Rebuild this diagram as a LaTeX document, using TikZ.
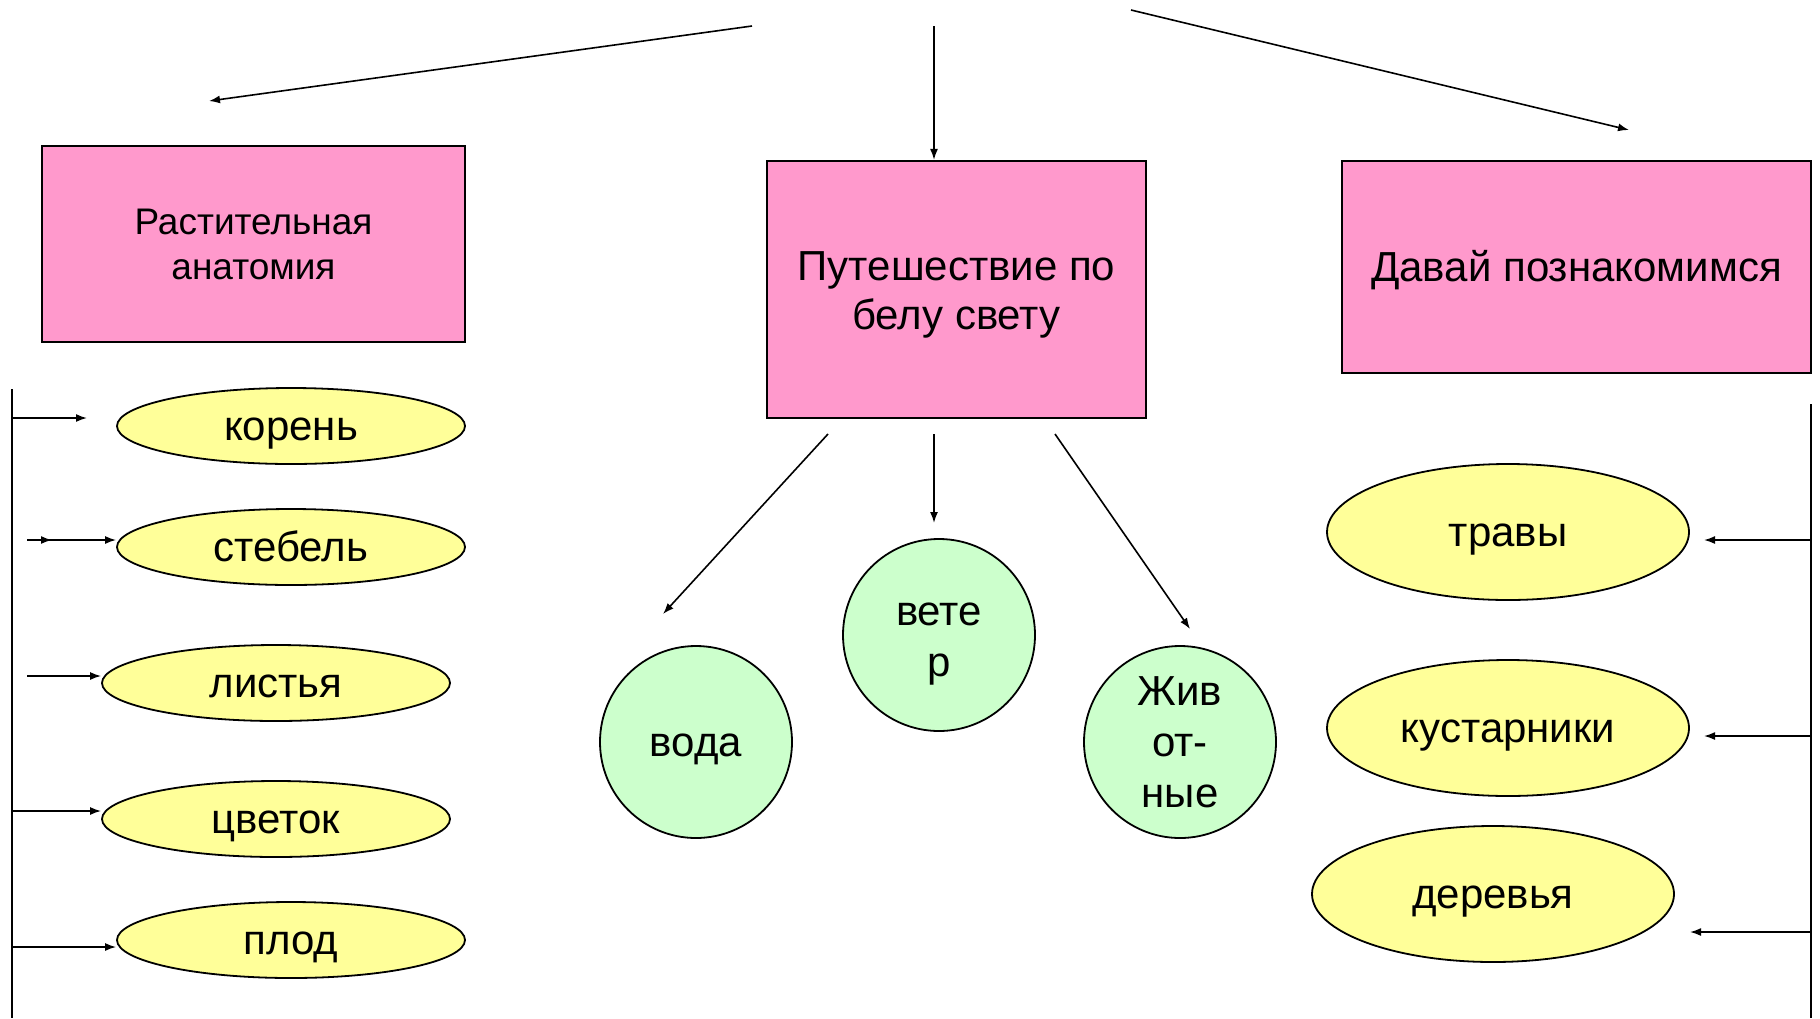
\documentclass[tikz,border=0pt]{standalone}
\usepackage{xcolor}
\usepackage{fontspec}
\setmainfont{Liberation Sans}
\usepackage{tikz}
\usetikzlibrary{shapes, positioning, arrows.meta}

\definecolor{boxpink}{HTML}{FF99CC}
\definecolor{partyellow}{HTML}{FFFF99}
\definecolor{worldgreen}{HTML}{CCFFCC}

\tikzset{
	topic/.style={rectangle, draw, line width=2.2pt, fill=boxpink, align=center, inner sep=0pt, font=\fontsize{42}{49}\selectfont},
	oneline/.style={text height=38pt, text depth=8.5pt},
	part/.style={ellipse, draw, line width=1.8pt, fill=partyellow, minimum width=348pt, minimum height=76pt, inner sep=0pt, oneline, font=\fontsize{42}{49}\selectfont},
	kind/.style={ellipse, draw, line width=1.8pt, fill=partyellow, minimum width=362pt, minimum height=136pt, inner sep=0pt, oneline, font=\fontsize{42}{49}\selectfont},
	world/.style={circle, draw, line width=1.8pt, fill=worldgreen, minimum size=192pt, inner sep=0pt, align=center, font=\fontsize{42}{51}\selectfont},
	conn/.style={-{Latex[length=11pt, width=8pt]}, line width=1.6pt},
	side/.style={line width=2.2pt}
}

\begin{document}
\begin{tikzpicture}[x=1pt, y=-1pt]
			\useasboundingbox (0,0) rectangle (1820,1018);

			% Nodes
			\node (plants) [topic, minimum width=423pt, minimum height=196pt, font=\fontsize{37}{45}\selectfont] at (253.5,244) {Растительная\\анатомия};
			\node (travel) [topic, minimum width=379pt, minimum height=257pt] at (956.5,289.5) {\rule{0pt}{40pt}Путешествие по\\белу свету};
			\node (meet) [topic, oneline, minimum width=469pt, minimum height=212pt] at (1576.5,267) {Давай познакомимся};

			\node (root) [part] at (291,426) {корень};
			\node (stem) [part] at (291,547) {стебель};
			\node (leaves) [part] at (276,683) {листья};
			\node (flower) [part] at (276,819) {цветок};
			\node (fruit) [part] at (291,940) {плод};

			\node (water) [world, oneline] at (696,742) {вода};
			\node (wind) [world] at (939,635) {\rule{0pt}{40pt}вете\\р};
			\node (animals) [world] at (1180,742) {Жив\\от-\\ные};

			\node (grass) [kind] at (1508,532) {травы};
			\node (shrubs) [kind] at (1508,728) {кустарники};
			\node (trees) [kind] at (1493,894) {деревья};

			% Free ends
			\coordinate (topL) at (752,26);
			\coordinate (topLend) at (209,101);
			\coordinate (topC) at (934,26);
			\coordinate (topR) at (1131,10);
			\coordinate (topRend) at (1629,130);

			\coordinate (downL) at (828,434);
			\coordinate (downLend) at (663,614);
			\coordinate (downC) at (934,434);
			\coordinate (downCend) at (934,523);
			\coordinate (downR) at (1055,434);
			\coordinate (downRend) at (1190,629);

			\coordinate (leftTop) at (12,389);
			\coordinate (leftBot) at (12,1018);
			\coordinate (rootA) at (12,418);
			\coordinate (rootB) at (87,418);
			\coordinate (stemA) at (27,540);
			\coordinate (stemB) at (52,540);
			\coordinate (leavesA) at (27,676);
			\coordinate (flowerA) at (12,811);
			\coordinate (fruitA) at (12,947);

			\coordinate (rightTop) at (1811,404);
			\coordinate (rightBot) at (1811,1018);
			\coordinate (grassA) at (1811,540);
			\coordinate (grassB) at (1704,540);
			\coordinate (shrubsA) at (1811,736);
			\coordinate (shrubsB) at (1704,736);
			\coordinate (treesA) at (1811,932);
			\coordinate (treesB) at (1690,932);

			% Edges
			\draw [conn] (topL) -- (topLend);
			\draw [conn] (topC) -- (topC |- travel.north);
			\draw [conn] (topR) -- (topRend);

			\draw [conn] (downL) -- (downLend);
			\draw [conn] (downC) -- (downCend);
			\draw [conn] (downR) -- (downRend);

			\draw [side] (leftTop) -- (leftBot);
			\draw [conn] (rootA) -- (rootB);
			\draw [conn] (stemA) -- (stemB);
			\draw [conn] (stemA) -- (stemA -| stem.west);
			\draw [conn] (leavesA) -- (leavesA -| leaves.west);
			\draw [conn] (flowerA) -- (flowerA -| flower.west);
			\draw [conn] (fruitA) -- (fruitA -| fruit.west);

			\draw [side] (rightTop) -- (rightBot);
			\draw [conn] (grassA) -- (grassB);
			\draw [conn] (shrubsA) -- (shrubsB);
			\draw [conn] (treesA) -- (treesB);

		\end{tikzpicture}
\end{document}
